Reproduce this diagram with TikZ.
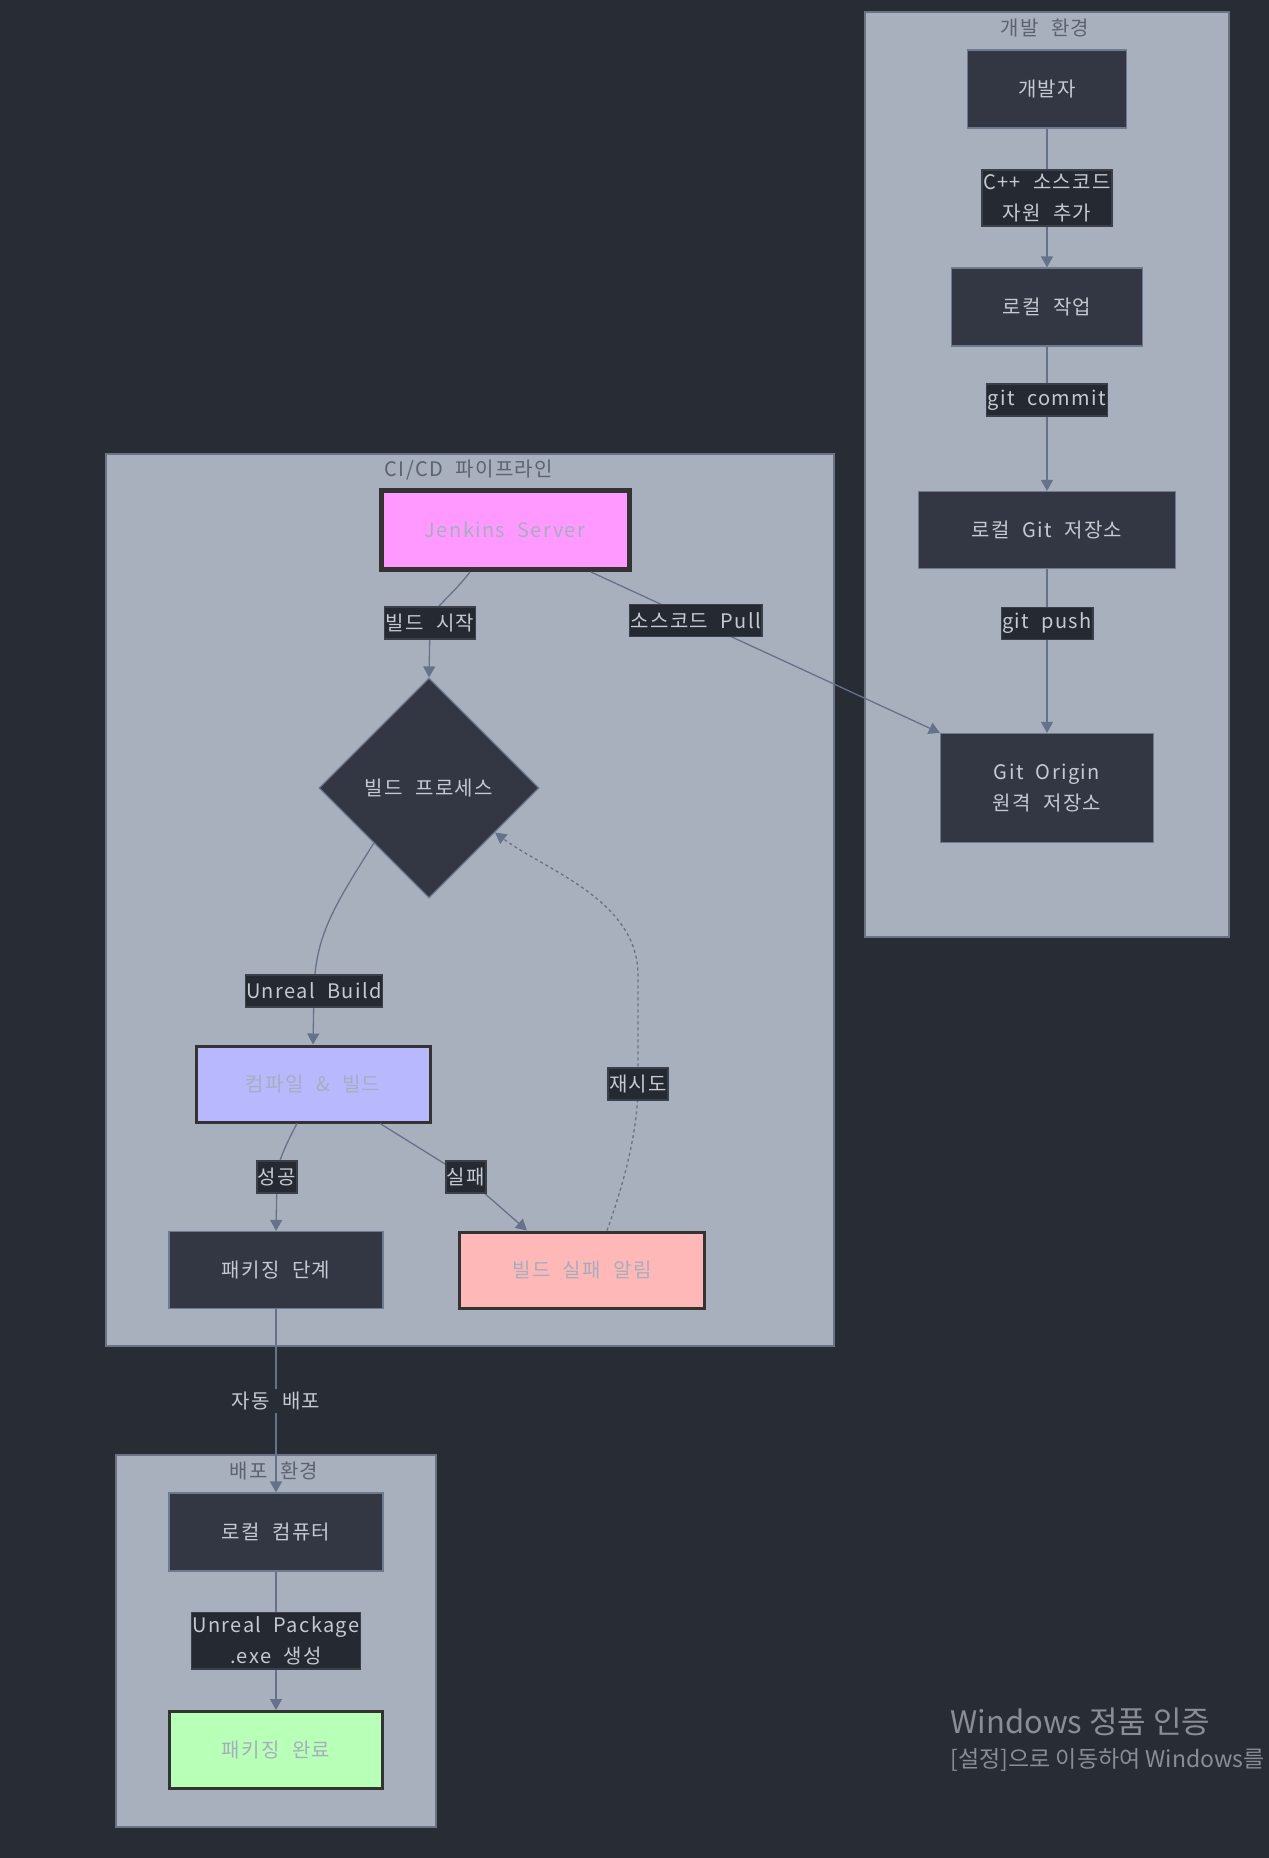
\documentclass[tikz,border=0pt]{standalone}
\usepackage{fontspec}
\setmainfont{Noto Sans CJK KR}[LetterSpace=7, WordSpace=2.1]
\newfontfamily\winfont{Noto Sans CJK KR}
\usetikzlibrary{shapes.geometric,arrows.meta}

\definecolor{pagebg}{HTML}{282C34}
\definecolor{groupfill}{HTML}{A9B0BD}
\definecolor{groupline}{HTML}{6B7282}
\definecolor{grouptext}{HTML}{5C6270}
\definecolor{boxfill}{HTML}{333743}
\definecolor{boxline}{HTML}{6E7A90}
\definecolor{boxtext}{HTML}{C5C9D1}
\definecolor{tagfill}{HTML}{252932}
\definecolor{edgecol}{HTML}{66718A}
\definecolor{hotline}{HTML}{333333}
\definecolor{jenkinsfill}{HTML}{FF99FF}
\definecolor{compilefill}{HTML}{B8B8FF}
\definecolor{failfill}{HTML}{FFB8B8}
\definecolor{donefill}{HTML}{B8FFB8}
\definecolor{softtext}{HTML}{A7AEBB}
\definecolor{wintext}{HTML}{8A8D93}

\begin{document}
\begin{tikzpicture}[x=1pt, y=-1pt,
    >={Triangle[length=11pt,width=12pt]},
    every node/.style={font=\fontsize{20}{31}\selectfont},
    group/.style={draw=groupline, fill=groupfill, line width=1.5pt},
    grouptitle/.style={text=grouptext},
    box/.style={draw=boxline, fill=boxfill, text=boxtext, line width=1.2pt, inner sep=0pt, align=center},
    hotbox/.style={box, draw=hotline, line width=3pt, text=softtext},
    tag/.style={solid, fill=tagfill, draw=tagfill!70!groupline, text=boxtext, inner xsep=1pt, inner ysep=4pt, minimum height=32pt, align=center},
    link/.style={draw=edgecol, line width=1.3pt, ->}]

        \useasboundingbox (0,0) rectangle (1269,1858);
        \fill[pagebg] (0,0) rectangle (1269,1858);

        % Groups
        \draw[group] (865,12) rectangle (1229,937);
        \node[grouptitle] (devtitle) at (1045,28) {개발 환경};
        \draw[group] (106,454) rectangle (834,1346);
        \node[grouptitle] (cititle) at (469,470) {CI/CD 파이프라인};
        \draw[group] (116,1455) rectangle (436,1827);
        \node[grouptitle] (deploytitle) at (274,1471) {배포 환경};

        % Dev side
        \node[box, minimum width=159pt, minimum height=78pt] (dev) at (1047,89) {개발자};
        \node[box, minimum width=191pt, minimum height=78pt] (local) at (1047,307) {로컬 작업};
        \node[box, minimum width=257pt, minimum height=77pt] (localgit) at (1047,530) {로컬 Git 저장소};
        \node[box, minimum width=213pt, minimum height=109pt] (origin) at (1047,788) {Git Origin\\원격 저장소};

        % Pipeline
        \node[hotbox, fill=jenkinsfill, line width=5pt, minimum width=248pt, minimum height=79pt] (jenkins) at (505,530) {Jenkins Server};
        \node[box, diamond, minimum width=220pt, minimum height=220pt] (build) at (429,788) {빌드 프로세스};
        \node[hotbox, fill=compilefill, minimum width=234pt, minimum height=76pt] (compile) at (313,1084) {컴파일 \& 빌드};
        \node[box, minimum width=214pt, minimum height=77pt] (pack) at (276,1270) {패키징 단계};
        \node[hotbox, fill=failfill, minimum width=245pt, minimum height=76pt] (fail) at (582,1270) {빌드 실패 알림};

        % Deploy side
        \node[box, minimum width=214pt, minimum height=78pt] (pc) at (276,1532) {로컬 컴퓨터};
        \node[hotbox, fill=donefill, minimum width=213pt, minimum height=77pt] (done) at (276,1750) {패키징 완료};

        % Edges
        \draw[link] (dev) -- node[tag] {C++ 소스코드\\자원 추가} (local);
        \draw[link] (local) -- node[tag, pos=0.37] {git commit} (localgit);
        \draw[link] (localgit) -- node[tag, pos=0.33] {git push} (origin);
        \draw[link] ([xshift=86pt]jenkins.south) -- node[tag, pos=0.3] {소스코드 Pull} (origin.north west);

        \draw[link] ([xshift=-35pt]jenkins.south) .. controls (450,598) and (430,610) .. (430,623)
            node[tag] {빌드 시작} -- (build.north);
        \draw[link] (build.south west) .. controls (335,905) and (315,935) .. (314,991)
            node[tag] {Unreal Build} -- (compile.north);
        \draw[link] ([xshift=-16pt]compile.south) .. controls (283,1150) and (277,1165) .. (277,1177)
            node[tag] {성공} -- (pack.north);
        \draw[link] ([xshift=67pt]compile.south) -- (466,1177) node[tag] {실패} -- ([xshift=-55pt]fail.north);
        \draw[link, dash pattern=on 3pt off 3pt] ([xshift=25pt]fail.north) .. controls (625,1180) and (638,1130) .. (638,1084)
            node[tag] {재시도} -- (638,975) .. controls (638,900) and (545,870) .. (build.-34);

        \draw[link] (pack) -- node[fill=pagebg, text=boxtext, inner sep=3pt] (autotag) {자동 배포} (pc);
        \draw[link] (pc) -- node[tag] {Unreal Package\\.exe 생성} (done);

        % Activation notice
        \node[anchor=base west, text=wintext, font=\winfont\fontsize{31}{36}\selectfont] (wmain) at (947,1733) {Windows 정품 인증};
        \node[anchor=base west, text=wintext, font=\winfont\fontsize{23}{26}\selectfont] (wsub) at (947,1767) {[설정]으로 이동하여 Windows를};

    \end{tikzpicture}
\end{document}
